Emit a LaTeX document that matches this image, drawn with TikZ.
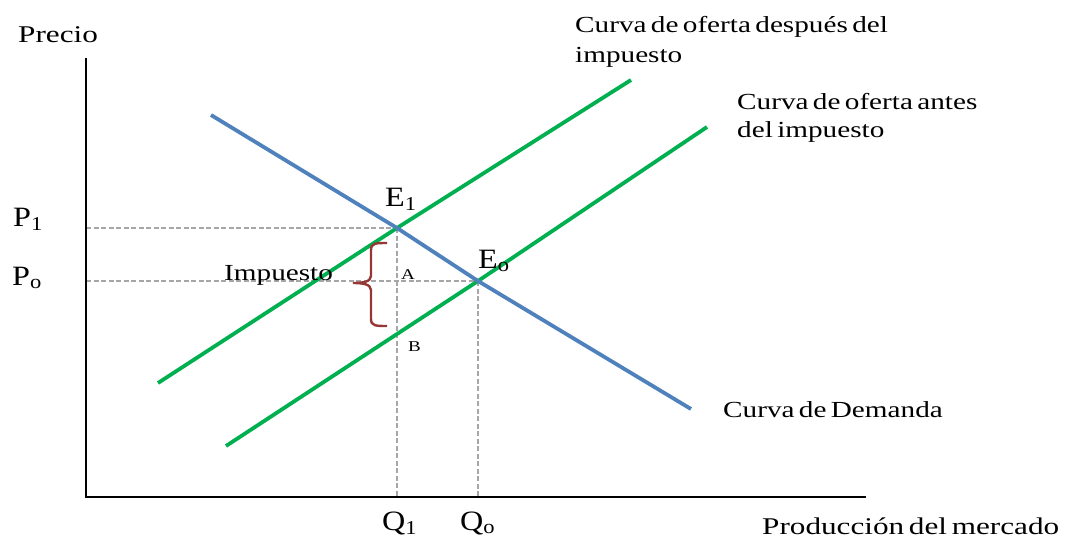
\documentclass[tikz,border=0pt]{standalone}
\usepackage{fontspec}
\setmainfont[FakeStretch=1.27,WordSpace=0.6]{Liberation Serif}
\newfontfamily\axisfont[FakeStretch=1.3,WordSpace=0.6]{Liberation Serif}
\newfontfamily\symfont[FakeStretch=1.15]{Liberation Serif}
\definecolor{dem}{HTML}{4F81BD}
\definecolor{sup}{HTML}{00B050}
\definecolor{brc}{HTML}{953735}
\definecolor{grd}{HTML}{A6A6A6}
\begin{document}
\begin{tikzpicture}[x=1pt,y=-1pt,
  lbl/.style={inner sep=0pt,font=\fontsize{23}{30}\selectfont},
  axlbl/.style={inner sep=0pt,font=\axisfont\fontsize{24}{28}\selectfont},
  sym/.style={inner sep=0pt,font=\symfont\fontsize{28}{32}\selectfont},
  small/.style={inner sep=0pt,font=\fontsize{15}{17}\selectfont},
  curve/.style={line width=3.8pt},
  guide/.style={grd,line width=2.1pt,dash pattern=on 5pt off 2.5pt},
  axis/.style={line width=2.4pt}]
\useasboundingbox (0,0) rectangle (1070,543);
% axes
\coordinate (O) at (86,497);
\coordinate (Ytop) at (86,58);
\coordinate (Xend) at (866,497);
% equilibria
\coordinate (E1) at (397,228);
\coordinate (E0) at (478,281);
\coordinate (P1) at (86,228);
\coordinate (P0) at (86,281);
\coordinate (Q1) at (397,497);
\coordinate (Q0) at (478,497);
% guides
\draw[guide] (P1) -- (E1);
\draw[guide] (P0) -- (E0);
\draw[guide] (E1) -- (Q1);
\draw[guide] (E0) -- (Q0);
% curve end points
\coordinate (D1) at (211,115);
\coordinate (D2) at (691,409);
\coordinate (SA1) at (158,383);
\coordinate (SA2) at (631,80);
\coordinate (SB1) at (226,446);
\coordinate (SB2) at (707,127);
\draw[curve,sup] (SA1) -- (E1) -- (SA2);
\draw[curve,sup] (SB1) -- (E0) -- (SB2);
\draw[curve,dem] (D1) -- (E1) -- (E0) -- (D2);
\draw[axis] (Ytop) -- (O) -- (Xend);
% brace
\coordinate (Bt) at (387,243);
\coordinate (Bb) at (387,326);
\draw[brc,line width=2.4pt] (Bt) .. controls (376,243) and (371,243) .. (371,250)
  -- (371,276) .. controls (371,282) and (362,283) .. (353,283)
  .. controls (362,283) and (371,284) .. (371,290)
  -- (371,319) .. controls (371,326) and (376,326) .. (Bb);
% labels
\node[axlbl,anchor=base west] (precio) at (18,43) {Precio};
\node[sym,anchor=base west] (lp1) at (13,226) {P\textsubscript{1}};
\node[sym,anchor=base west] (lp0) at (12,285) {P\textsubscript{o}};
\node[sym,anchor=base west] (le1) at (385,206) {E\textsubscript{1}};
\node[sym,anchor=base west] (le0) at (478,268) {E\textsubscript{o}};
\node[lbl,anchor=base west] (imp) at (224,280) {Impuesto};
\node[small,anchor=base west] (la) at (401,279) {A};
\node[small,anchor=base west] (lb) at (408,351) {B};
\node[sym,anchor=base west] (lq1) at (382,530) {Q\textsubscript{1}};
\node[sym,anchor=base west] (lq0) at (460,530) {Q\textsubscript{o}};
\node[axlbl,anchor=base west] (prod) at (762,534) {Producción del mercado};
\node[lbl,anchor=base west] (cdem) at (723,417) {Curva de Demanda};
\node[lbl,anchor=base west] (cdesp1) at (575,33) {Curva de oferta después del};
\node[lbl,anchor=base west] (cdesp2) at (575,63) {impuesto};
\node[lbl,anchor=base west] (cant1) at (737,109) {Curva de oferta antes};
\node[lbl,anchor=base west] (cant2) at (737,137) {del impuesto};
\end{tikzpicture}
\end{document}
